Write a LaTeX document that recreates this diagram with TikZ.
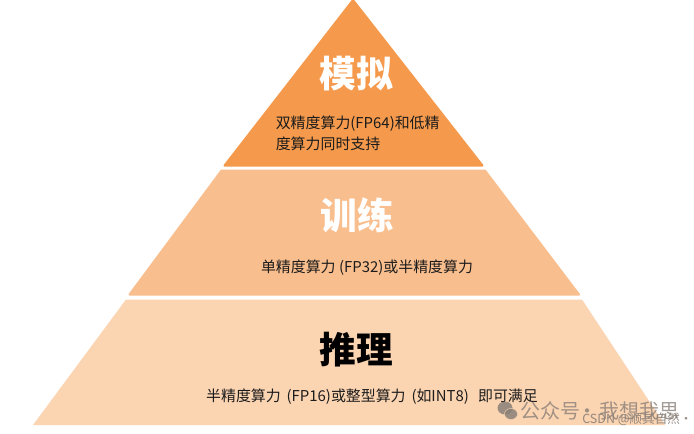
\documentclass[tikz,border=0pt]{standalone}
\usepackage{fontspec}
\setmainfont{Noto Sans CJK SC}
\definecolor{topc}{HTML}{F59A4C}
\definecolor{midc}{HTML}{F9BE8D}
\definecolor{lowc}{HTML}{FBD4B2}
\definecolor{inkc}{HTML}{1C1C1C}
\definecolor{wmc}{HTML}{8A8078}
\tikzset{
  band/.style={line join=round,draw,line width=1.5pt},
  head/.style={font=\fontsize{27.5}{30}\selectfont\bfseries,inner sep=0pt},
  desc/.style={font=\fontsize{11.2}{15.8}\selectfont,text=inkc,inner sep=0pt},
  mark1/.style={font=\fontsize{15}{16}\selectfont,text=wmc,opacity=.8,inner sep=0pt},
  mark2/.style={font=\fontsize{9.4}{11}\selectfont,text=wmc,opacity=.9,inner sep=0pt}
}
\begin{document}
\begin{tikzpicture}[x=.75pt,y=-.75pt]
\useasboundingbox (0,0) rectangle (694,433);
\fill[white] (0,0) rectangle (694,433);
\path[band,draw=topc,fill=topc] (353,0) -- (482.5,165.5) -- (224.5,165.5) -- cycle;
\path[band,draw=midc,fill=midc] (221.5,170.5) -- (485,170.5) -- (579,294.5) -- (129.5,294.5) -- cycle;
\fill[lowc] (126,299.5) -- (582,299.5) -- (665,425) -- (33,425) -- cycle;
\node[head,text=white] (sim) at (356,73.5) {模拟};
\node[desc,align=left,anchor=west] (simd) at (275.5,133) {双精度算力(FP64)和低精\\度算力同时支持};
\node[head,text=white] (trn) at (357,215.5) {训练};
\node[desc] (trnd) at (367,267.5) {单精度算力 (FP32)或半精度算力};
\node[head,text=black] (inf) at (356.5,349.5) {推理};
\node[desc] (infd) at (372,397) {半精度算力 \,(FP16)或整型算力 \,(如INT8) \ \,即可满足};
\fill[wmc,opacity=.85] (505,408) ellipse (7.5 and 6.5);
\fill[wmc,opacity=.85,draw=lowc] (511,414) ellipse (6.5 and 5.5);
\node[mark1,anchor=west] (wm) at (520,411) {公众号\kern-2pt·\kern1.5pt我想我思};
\node[mark2,anchor=west] (csdn) at (582,419) {CSDN @顺其自然·};
\end{tikzpicture}
\end{document}
